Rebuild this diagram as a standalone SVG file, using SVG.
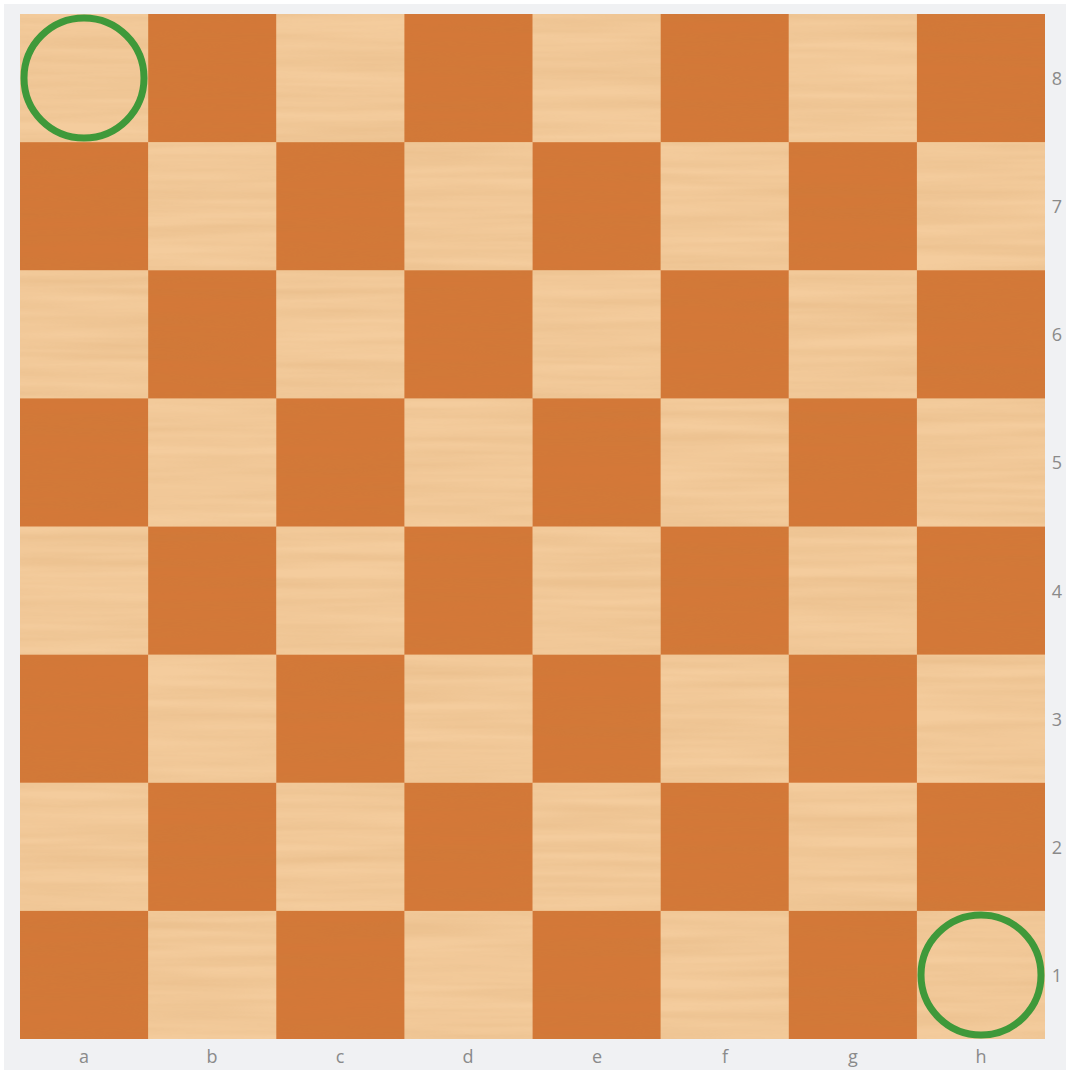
<svg xmlns="http://www.w3.org/2000/svg" width="1066" height="1070" viewBox="0 0 1066 1070">
<style>
.l{fill:#f4cc9d}
.d{fill:#d47838}
.lab{font-family:"Open Sans","Liberation Sans",sans-serif;font-size:18px;fill:#8a8a8a;text-anchor:middle;dominant-baseline:central}
.mark{fill:none;stroke:#3f993a;stroke-width:7}
</style>
<defs>
<filter id="grain" x="0" y="0" width="100%" height="100%">
<feTurbulence type="fractalNoise" baseFrequency="0.004 0.09" numOctaves="3" seed="4"/>
<feColorMatrix type="matrix" values="0 0 0 0 0.5  0 0 0 0 0.22  0 0 0 0 0.05  0 0 0 0.5 -0.12"/>
</filter>
</defs>
<rect width="1066" height="1070" fill="#ffffff"/>
<rect x="4" y="4" width="1062" height="1066" fill="#f0f1f3"/>
<g id="board">
<rect x="20" y="14" width="1025" height="1025" class="d"/>
<g id="light-squares">
<rect x="20" y="14" width="128.2" height="128.2" class="l"/>
<rect x="276.2" y="14" width="128.2" height="128.2" class="l"/>
<rect x="532.5" y="14" width="128.2" height="128.2" class="l"/>
<rect x="788.7" y="14" width="128.2" height="128.2" class="l"/>
<rect x="148.1" y="142.1" width="128.2" height="128.2" class="l"/>
<rect x="404.4" y="142.1" width="128.2" height="128.2" class="l"/>
<rect x="660.6" y="142.1" width="128.2" height="128.2" class="l"/>
<rect x="916.9" y="142.1" width="128.1" height="128.2" class="l"/>
<rect x="20" y="270.2" width="128.2" height="128.2" class="l"/>
<rect x="276.2" y="270.2" width="128.2" height="128.2" class="l"/>
<rect x="532.5" y="270.2" width="128.2" height="128.2" class="l"/>
<rect x="788.7" y="270.2" width="128.2" height="128.2" class="l"/>
<rect x="148.1" y="398.4" width="128.2" height="128.2" class="l"/>
<rect x="404.4" y="398.4" width="128.2" height="128.2" class="l"/>
<rect x="660.6" y="398.4" width="128.2" height="128.2" class="l"/>
<rect x="916.9" y="398.4" width="128.1" height="128.2" class="l"/>
<rect x="20" y="526.5" width="128.2" height="128.2" class="l"/>
<rect x="276.2" y="526.5" width="128.2" height="128.2" class="l"/>
<rect x="532.5" y="526.5" width="128.2" height="128.2" class="l"/>
<rect x="788.7" y="526.5" width="128.2" height="128.2" class="l"/>
<rect x="148.1" y="654.6" width="128.2" height="128.2" class="l"/>
<rect x="404.4" y="654.6" width="128.2" height="128.2" class="l"/>
<rect x="660.6" y="654.6" width="128.2" height="128.2" class="l"/>
<rect x="916.9" y="654.6" width="128.1" height="128.2" class="l"/>
<rect x="20" y="782.7" width="128.2" height="128.2" class="l"/>
<rect x="276.2" y="782.7" width="128.2" height="128.2" class="l"/>
<rect x="532.5" y="782.7" width="128.2" height="128.2" class="l"/>
<rect x="788.7" y="782.7" width="128.2" height="128.2" class="l"/>
<rect x="148.1" y="910.9" width="128.2" height="128.1" class="l"/>
<rect x="404.4" y="910.9" width="128.2" height="128.1" class="l"/>
<rect x="660.6" y="910.9" width="128.2" height="128.1" class="l"/>
<rect x="916.9" y="910.9" width="128.1" height="128.1" class="l"/>
</g>
<rect x="20" y="14" width="1025" height="1025" filter="url(#grain)" opacity="0.45"/>
</g>
<g id="mark-a8"><circle cx="84" cy="78" r="60" class="mark"/></g>
<g id="mark-h1"><circle cx="981" cy="975" r="60" class="mark"/></g>
<g id="rank-labels">
<text x="1057" y="78" class="lab">8</text>
<text x="1057" y="206" class="lab">7</text>
<text x="1057" y="334" class="lab">6</text>
<text x="1057" y="462" class="lab">5</text>
<text x="1057" y="591" class="lab">4</text>
<text x="1057" y="719" class="lab">3</text>
<text x="1057" y="847" class="lab">2</text>
<text x="1057" y="975" class="lab">1</text>
</g>
<g id="file-labels">
<text x="84" y="1056" class="lab">a</text>
<text x="212" y="1056" class="lab">b</text>
<text x="340" y="1056" class="lab">c</text>
<text x="468" y="1056" class="lab">d</text>
<text x="597" y="1056" class="lab">e</text>
<text x="725" y="1056" class="lab">f</text>
<text x="853" y="1056" class="lab">g</text>
<text x="981" y="1056" class="lab">h</text>
</g>
</svg>
